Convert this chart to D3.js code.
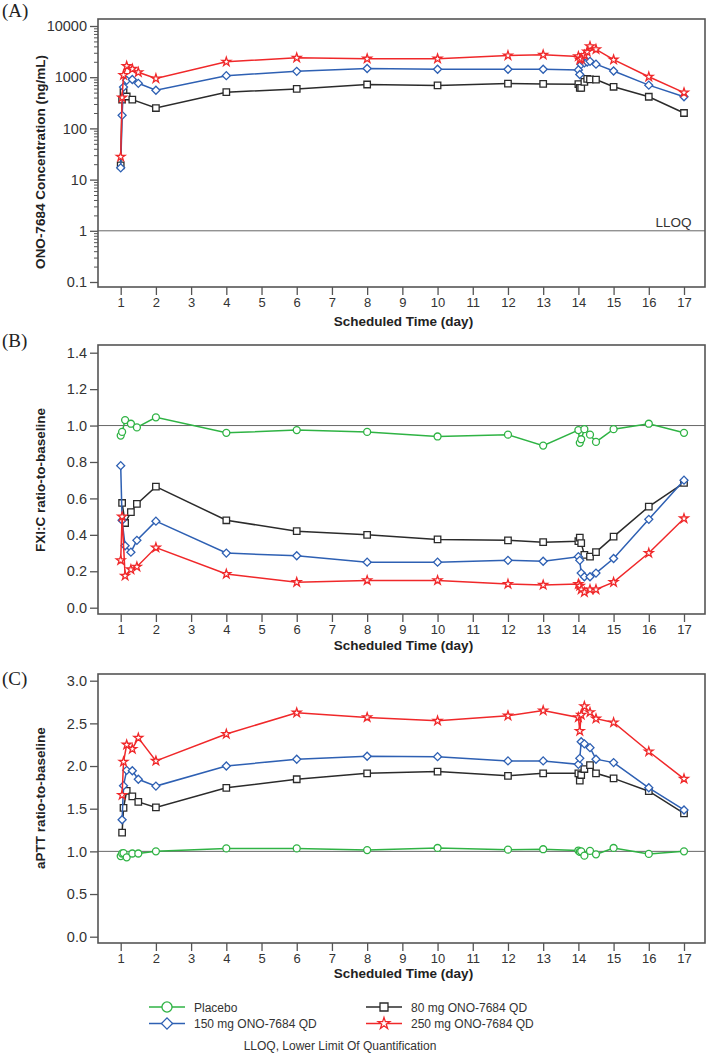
<!DOCTYPE html>
<html>
<head>
<meta charset="utf-8">
<script src="https://cdn.jsdelivr.net/npm/d3@7"></script>
<style>
  body { margin: 0; background: #fff; }
  svg { display: block; font-family: "Liberation Sans", Arial, sans-serif; }
</style>
</head>
<body>
<script>
// ---- data ----
const days = d3.range(1, 18);

// (A) PK concentration, ng/mL
const pkTime = [1, 1.04, 1.08, 1.17, 1.33, 1.5, 2, 4, 6, 8, 10, 12, 13, 14, 14.04, 14.08, 14.17, 14.25, 14.33, 14.5, 15, 16, 17];
const pk80  = [19, 365, 510, 420, 365, null, 250, 510, 590, 720, 690, 750, 740, 730, 620, 620, 810, 930, 910, 900, 650, 415, 200];
const pk150 = [17, 180, 640, 870, 900, 760, 555, 1070, 1300, 1480, 1430, 1430, 1430, 1390, 1130, 1780, 1900, 1980, 2040, 1800, 1320, 700, 415];
const pk250 = [28, 400, 1100, 1650, 1450, 1250, 940, 2000, 2400, 2300, 2300, 2650, 2750, 2550, 2200, 2300, 2700, 3150, 4000, 3500, 2200, 1020, 500];
const pkTicks = [0.1, 1, 10, 100, 1000, 10000];

// (B) FXI:C ratio-to-baseline
const fxiTime = [1, 1.04, 1.125, 1.29, 1.46, 2, 4, 6, 8, 10, 12, 13, 14, 14.04, 14.08, 14.17, 14.33, 14.5, 15, 16, 17];
const fxiPlacebo = [0.945, 0.965, 1.03, 1.01, 0.99, 1.045, 0.96, 0.975, 0.965, 0.94, 0.95, 0.89, 0.975, 0.905, 0.925, 0.98, 0.95, 0.91, 0.98, 1.01, 0.96];
const fxi80  = [null, 0.575, 0.465, 0.525, 0.57, 0.665, 0.48, 0.42, 0.40, 0.375, 0.37, 0.36, 0.365, 0.385, 0.355, 0.29, 0.28, 0.305, 0.39, 0.555, 0.685];
const fxi150 = [0.78, 0.48, 0.34, 0.305, 0.37, 0.475, 0.30, 0.285, 0.25, 0.25, 0.26, 0.255, 0.28, 0.26, 0.19, 0.17, 0.17, 0.19, 0.27, 0.485, 0.70];
const fxi250 = [0.26, 0.50, 0.175, 0.21, 0.225, 0.33, 0.185, 0.14, 0.15, 0.15, 0.13, 0.125, 0.13, 0.12, 0.10, 0.085, 0.10, 0.10, 0.14, 0.30, 0.49];
const fxiTicks = [0, 0.2, 0.4, 0.6, 0.8, 1.0, 1.2, 1.4];

// (C) aPTT ratio-to-baseline
const aptTime = [1, 1.04, 1.08, 1.17, 1.33, 1.5, 2, 4, 6, 8, 10, 12, 13, 14, 14.04, 14.08, 14.17, 14.33, 14.5, 15, 16, 17];
const aptPlacebo = [0.945, 0.975, 0.98, 0.93, 0.975, 0.975, 1.0, 1.035, 1.035, 1.015, 1.04, 1.02, 1.025, 1.01, 0.995, 1.0, 0.95, 1.005, 0.965, 1.04, 0.97, 1.0];
const apt80  = [null, 1.22, 1.51, 1.71, 1.645, 1.58, 1.515, 1.745, 1.845, 1.915, 1.935, 1.885, 1.915, 1.915, 1.83, 1.895, 1.965, 2.01, 1.915, 1.855, 1.705, 1.445];
const apt150 = [null, 1.37, 1.77, 1.95, 1.945, 1.845, 1.765, 2.0, 2.08, 2.115, 2.11, 2.06, 2.06, 2.02, 2.09, 2.285, 2.26, 2.215, 2.08, 2.04, 1.745, 1.485];
const apt250 = [null, 1.66, 2.05, 2.25, 2.2, 2.33, 2.06, 2.375, 2.625, 2.57, 2.53, 2.59, 2.65, 2.57, 2.41, 2.6, 2.7, 2.63, 2.555, 2.51, 2.17, 1.85];
const aptTicks = [0, 0.5, 1.0, 1.5, 2.0, 2.5, 3.0];

const groups = [
  { key: "placebo", name: "Placebo", color: "#2fb344", shape: "circle" },
  { key: "d80", name: "80 mg ONO-7684 QD", color: "#2b2b2b", shape: "square" },
  { key: "d150", name: "150 mg ONO-7684 QD", color: "#2e60b3", shape: "diamond" },
  { key: "d250", name: "250 mg ONO-7684 QD", color: "#f0282a", shape: "star" }
];

// ---- layout ----
const width = 709, height = 1055;
const frameLeft = 98, frameRight = 705;
const axisColor = "#555", textColor = "#333";

const svg = d3.select("body").append("svg")
  .attr("width", width)
  .attr("height", height);

const x = d3.scaleLinear().domain([1, 17]).range([120.7, 684]);

// symbol areas: [plot marker, legend marker]
const symbolSizes = {
  circle: [38, 80],
  square: [42, 64],
  diamond: [32, 62],
  star: [24, 42]
};
const symbolTypes = {
  circle: d3.symbolCircle,
  square: d3.symbolSquare,
  diamond: d3.symbolSquare,
  star: d3.symbolStar
};
function symbolPath(shape, big) {
  return d3.symbol().type(symbolTypes[shape]).size(symbolSizes[shape][big ? 1 : 0])();
}
function rot(shape) { return shape === "diamond" ? " rotate(45)" : ""; }

function drawPanel(p) {
  const g = svg.append("g");
  const bottom = p.top + p.height;
  const y = p.y;

  // panel letter
  g.append("text")
    .attr("x", 2).attr("y", p.letterY)
    .style("font-family", "'Liberation Serif', 'DejaVu Serif', serif")
    .style("font-size", "19px")
    .attr("fill", "#222")
    .text(p.letter);

  // reference line
  g.append("line")
    .attr("x1", frameLeft).attr("x2", frameRight)
    .attr("y1", y(p.ref)).attr("y2", y(p.ref))
    .attr("stroke", "#666").attr("stroke-width", 1);

  // x axis
  const xa = g.append("g")
    .attr("transform", "translate(0," + bottom + ")")
    .call(d3.axisBottom(x).tickValues(days).tickSize(8).tickPadding(3));
  xa.select(".domain").remove();
  xa.selectAll("line").attr("stroke", axisColor).attr("stroke-width", 1.3);
  xa.selectAll("text").attr("fill", textColor).style("font-size", "13px");

  // y axis
  const ya = g.append("g")
    .attr("transform", "translate(" + frameLeft + ",0)")
    .call(d3.axisLeft(y).tickValues(p.ticks).tickSize(8).tickPadding(3).tickFormat(p.format));
  ya.select(".domain").remove();
  ya.selectAll("line").attr("stroke", axisColor).attr("stroke-width", 1.3);
  ya.selectAll("text").attr("fill", textColor).style("font-size", "14.5px");

  if (p.minor) {
    const ym = g.append("g")
      .attr("transform", "translate(" + frameLeft + ",0)")
      .call(d3.axisLeft(y).tickValues(p.minor).tickSize(4).tickFormat(""));
    ym.select(".domain").remove();
    ym.selectAll("line").attr("stroke", axisColor).attr("stroke-width", 1);
  }

  // frame
  g.append("rect")
    .attr("x", frameLeft).attr("y", p.top)
    .attr("width", frameRight - frameLeft).attr("height", p.height)
    .attr("fill", "none").attr("stroke", axisColor).attr("stroke-width", 1.6);

  // titles
  g.append("text")
    .attr("x", (frameLeft + frameRight) / 2 + 2).attr("y", bottom + p.xTitleOffset)
    .attr("text-anchor", "middle")
    .style("font-size", "13.5px").style("font-weight", "bold")
    .attr("fill", "#222")
    .text("Scheduled Time (day)");

  g.append("text")
    .attr("transform", "translate(45," + p.yTitleCenter + ") rotate(-90)")
    .attr("text-anchor", "middle")
    .style("font-size", "13.5px").style("font-weight", "bold")
    .attr("fill", "#222")
    .text(p.yTitle);

  if (p.refLabel) {
    g.append("text")
      .attr("x", 691.5).attr("y", y(p.ref) - 4)
      .attr("text-anchor", "end")
      .style("font-size", "13.5px")
      .attr("fill", textColor)
      .text(p.refLabel);
  }

  // series
  const line = d3.line().x(d => x(d.t)).y(d => y(d.v));
  p.series.forEach(s => {
    const grp = groups.find(gr => gr.key === s.key);
    const pts = p.time.map((t, i) => ({ t: t, v: s.values[i] })).filter(d => d.v != null);
    g.append("path")
      .datum(pts)
      .attr("d", line)
      .attr("fill", "none")
      .attr("stroke", grp.color)
      .attr("stroke-width", 1.5);
    g.selectAll(null)
      .data(pts)
      .enter()
      .append("path")
      .attr("transform", d => "translate(" + x(d.t) + "," + y(d.v) + ")" + rot(grp.shape))
      .attr("d", symbolPath(grp.shape, false))
      .attr("fill", "#fff")
      .attr("stroke", grp.color)
      .attr("stroke-width", 1.3);
  });
}

// minor ticks for the log axis
const pkMinor = [];
for (let e = -1; e < 4; e++) {
  for (let m = 2; m <= 9; m++) pkMinor.push(m * Math.pow(10, e));
}

drawPanel({
  letter: "(A)", letterY: 17,
  top: 19, height: 268,
  y: d3.scaleLog().domain([0.1, 10000]).range([282, 26]),
  ticks: pkTicks, minor: pkMinor,
  format: d => String(d),
  ref: 1, refLabel: "LLOQ",
  yTitle: "ONO-7684 Concentration (ng/mL)", yTitleCenter: 162,
  xTitleOffset: 39,
  time: pkTime,
  series: [
    { key: "d80", values: pk80 },
    { key: "d150", values: pk150 },
    { key: "d250", values: pk250 }
  ]
});

drawPanel({
  letter: "(B)", letterY: 347,
  top: 345, height: 269,
  y: d3.scaleLinear().domain([0, 1.4]).range([607.7, 352.7]),
  ticks: fxiTicks,
  format: d3.format(".1f"),
  ref: 1,
  yTitle: "FXI:C ratio-to-baseline", yTitleCenter: 480,
  xTitleOffset: 36,
  time: fxiTime,
  series: [
    { key: "placebo", values: fxiPlacebo },
    { key: "d80", values: fxi80 },
    { key: "d150", values: fxi150 },
    { key: "d250", values: fxi250 }
  ]
});

drawPanel({
  letter: "(C)", letterY: 685,
  top: 674, height: 269,
  y: d3.scaleLinear().domain([0, 3]).range([936.7, 680.7]),
  ticks: aptTicks,
  format: d3.format(".1f"),
  ref: 1,
  yTitle: "aPTT ratio-to-baseline", yTitleCenter: 798,
  xTitleOffset: 35,
  time: aptTime,
  series: [
    { key: "placebo", values: aptPlacebo },
    { key: "d80", values: apt80 },
    { key: "d150", values: apt150 },
    { key: "d250", values: apt250 }
  ]
});

// ---- legend ----
const legendPos = [
  { key: "placebo", x: 149, y: 1007 },
  { key: "d80", x: 366, y: 1007 },
  { key: "d150", x: 149, y: 1023.5 },
  { key: "d250", x: 366, y: 1023.5 }
];
const legend = svg.append("g");
legendPos.forEach(lp => {
  const grp = groups.find(gr => gr.key === lp.key);
  legend.append("line")
    .attr("x1", lp.x).attr("x2", lp.x + 36)
    .attr("y1", lp.y).attr("y2", lp.y)
    .attr("stroke", grp.color).attr("stroke-width", 1.5);
  legend.append("path")
    .attr("transform", "translate(" + (lp.x + 18) + "," + lp.y + ")" + rot(grp.shape))
    .attr("d", symbolPath(grp.shape, true))
    .attr("fill", "#fff")
    .attr("stroke", grp.color)
    .attr("stroke-width", 1.3);
  legend.append("text")
    .attr("x", lp.x + 45).attr("y", lp.y + 4.5)
    .style("font-size", "12px")
    .attr("fill", textColor)
    .text(grp.name);
});

legend.append("text")
  .attr("x", 340).attr("y", 1050)
  .attr("text-anchor", "middle")
  .style("font-size", "12px")
  .attr("fill", textColor)
  .text("LLOQ, Lower Limit Of Quantification");
</script>
</body>
</html>
